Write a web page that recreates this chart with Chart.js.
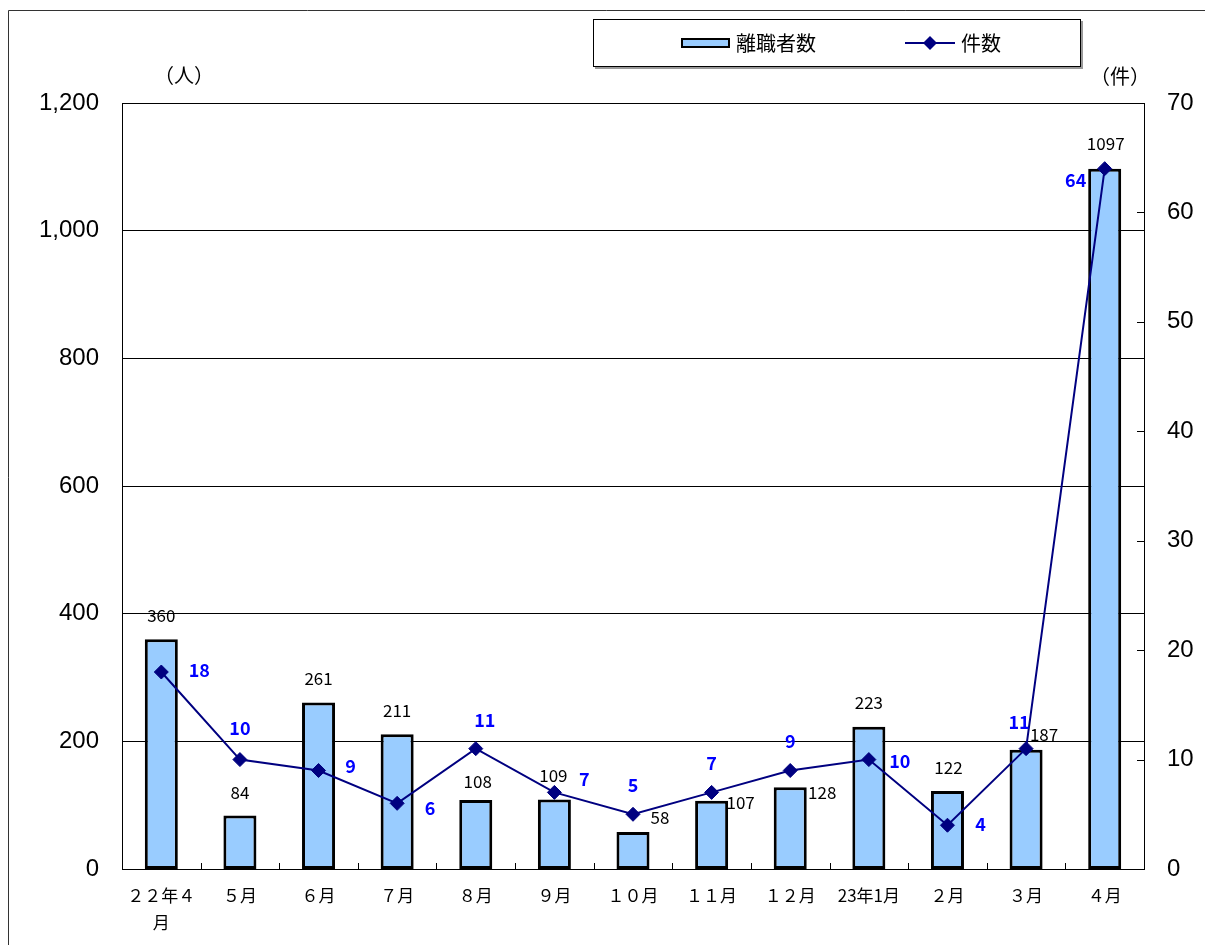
<!DOCTYPE html>
<html><head><meta charset="utf-8">
<script src="https://cdn.jsdelivr.net/npm/chart.js@4"></script>
<style>html,body{margin:0;padding:0;background:#fff}canvas{display:block}</style>
</head><body>
<canvas id="c" width="1205" height="945"></canvas>
<script>
const categories = [["２２年４","月"],"５月","６月","７月","８月","９月","１０月","１１月","１２月","23年1月","２月","３月","４月"];
const leavers = [360, 84, 261, 211, 108, 109, 58, 107, 128, 223, 122, 187, 1097];
const cases = [18, 10, 9, 6, 11, 7, 5, 7, 9, 10, 4, 11, 64];
const leftTicks = [0, 200, 400, 600, 800, 1000, 1200];
const rightTicks = [0, 10, 20, 30, 40, 50, 60, 70];
const leaversLabel = "離職者数";
const casesLabel = "件数";
const leftUnit = "（人）";
const rightUnit = "（件）";

// label offsets (style)
const barLabelOffsets = [[0,-24],[0,-23],[0,-24],[0,-24],[2,-19],[-1,-24],[27,-14],[29,2],[32,5],[0,-24],[1,-24],[18,-15],[1,-25]];
const lineLabelOffsets = [[38,-2],[0,-31],[32,-4],[33,5],[9,-28],[30,-13],[0,-29],[0,-29],[0,-29],[31,2],[33,-1],[-7,-26],[-29,11]];

const CJK = '"Noto Sans CJK JP", "Noto Sans", sans-serif';
const LAT = '"Liberation Sans", Arial, sans-serif';

const decoPlugin = {
  id: 'deco',
  beforeDraw(chart) {
    const ctx = chart.ctx;
    ctx.save();
    ctx.fillStyle = '#fff';
    ctx.fillRect(0, 0, chart.width, chart.height);
    ctx.strokeStyle = '#333';
    ctx.lineWidth = 1;
    ctx.beginPath();
    ctx.moveTo(8.5, 945); ctx.lineTo(8.5, 10.5); ctx.lineTo(1205, 10.5);
    ctx.stroke();
    ctx.restore();
  },
  beforeDatasetsDraw(chart) {
    const ctx = chart.ctx, a = chart.chartArea;
    const xs = chart.scales.x, y2 = chart.scales.y2;
    ctx.save();
    ctx.strokeStyle = '#000';
    ctx.lineWidth = 1;
    ctx.strokeRect(Math.round(a.left) + 0.5, Math.round(a.top) + 0.5, Math.round(a.right - a.left), Math.round(a.bottom - a.top));
    ctx.beginPath();
    for (let i = 1; i < categories.length; i++) {
      const px = Math.round(xs.getPixelForValue(i - 0.5)) + 0.5;
      ctx.moveTo(px, a.bottom); ctx.lineTo(px, a.bottom - 6);
    }
    rightTicks.forEach(v => {
      const py = Math.round(y2.getPixelForValue(v)) + 0.5;
      ctx.moveTo(a.right, py); ctx.lineTo(a.right - 7, py);
    });
    ctx.stroke();
    ctx.restore();
  },
  afterDatasetsDraw(chart) {
    const ctx = chart.ctx;
    ctx.save();
    ctx.textAlign = 'center';
    ctx.textBaseline = 'middle';
    const barMeta = chart.getDatasetMeta(1);
    ctx.font = '17px ' + CJK;
    ctx.fillStyle = '#000';
    barMeta.data.forEach((el, i) => {
      const o = barLabelOffsets[i];
      ctx.fillText(String(leavers[i]), el.x + o[0], el.y + o[1]);
    });
    const lineMeta = chart.getDatasetMeta(0);
    ctx.font = 'bold 18px ' + CJK;
    ctx.fillStyle = '#0000FF';
    lineMeta.data.forEach((el, i) => {
      const o = lineLabelOffsets[i];
      ctx.fillText(String(cases[i]), el.x + o[0], el.y + o[1]);
    });
    // units
    ctx.fillStyle = '#000';
    ctx.font = '20px ' + CJK;
    ctx.fillText(leftUnit, 184, 75);
    ctx.fillText(rightUnit, 1120, 76);
    // legend
    ctx.fillStyle = '#999';
    ctx.fillRect(595, 21, 488, 48);
    ctx.fillStyle = '#fff';
    ctx.fillRect(593, 19, 488, 48);
    ctx.strokeStyle = '#000';
    ctx.lineWidth = 1;
    ctx.strokeRect(593.5, 19.5, 487, 47);
    ctx.fillStyle = '#99CCFF';
    ctx.fillRect(682, 39, 47, 8);
    ctx.lineWidth = 2;
    ctx.strokeRect(682, 39, 47, 8);
    ctx.textAlign = 'left';
    ctx.fillStyle = '#000';
    ctx.font = '20px ' + CJK;
    ctx.fillText(chart.data.datasets[1].label, 736, 43);
    ctx.strokeStyle = '#000080';
    ctx.lineWidth = 2;
    ctx.beginPath(); ctx.moveTo(905, 43); ctx.lineTo(955, 43); ctx.stroke();
    ctx.fillStyle = '#000080';
    ctx.beginPath(); ctx.moveTo(923, 43); ctx.lineTo(930, 36); ctx.lineTo(937, 43); ctx.lineTo(930, 50); ctx.closePath(); ctx.fill();
    ctx.fillStyle = '#000';
    ctx.fillText(chart.data.datasets[0].label, 961, 43);
    ctx.restore();
  }
};

new Chart(document.getElementById('c'), {
  data: {
    labels: categories,
    datasets: [
      {
        type: 'line', label: casesLabel, data: cases, yAxisID: 'y2', order: 0,
        borderColor: '#000080', borderWidth: 2, backgroundColor: '#000080',
        pointStyle: 'rectRot', pointRadius: 7, pointBorderWidth: 1, pointBorderColor: '#000080',
        pointBackgroundColor: '#000080', tension: 0, fill: false
      },
      {
        type: 'bar', label: leaversLabel, data: leavers, yAxisID: 'y', order: 1,
        backgroundColor: '#99CCFF', borderColor: '#000', borderWidth: 3, borderSkipped: false,
        barPercentage: 0.42, categoryPercentage: 1
      }
    ]
  },
  options: {
    responsive: false, animation: false,
    layout: { padding: { top: 103, left: 0, right: 0, bottom: 0 } },
    plugins: { legend: { display: false }, tooltip: { enabled: false } },
    scales: {
      x: {
        offset: true,
        grid: { display: false }, border: { display: false },
        ticks: { color: '#000', font: { family: CJK, size: 17, lineHeight: 1.6 }, padding: 5, maxRotation: 0, autoSkip: false },
        afterFit: s => { s.height = 76; }
      },
      y: {
        position: 'left', min: 0, max: 1200,
        afterBuildTicks: s => { s.ticks = leftTicks.map(v => ({ value: v })); },
        ticks: { color: '#000', font: { family: LAT, size: 24 }, padding: 23,
          callback: v => v.toLocaleString('en-US') },
        grid: { color: '#000', drawTicks: false, lineWidth: c => (c.tick && (c.tick.value === 0 || c.tick.value === 1200)) ? 0 : 1 },
        border: { display: false },
        afterFit: s => { s.width = 122; }
      },
      y2: {
        position: 'right', min: 0, max: 70,
        afterBuildTicks: s => { s.ticks = rightTicks.map(v => ({ value: v })); },
        ticks: { color: '#000', font: { family: LAT, size: 24 }, padding: 23 },
        grid: { drawOnChartArea: false, drawTicks: false },
        border: { display: false },
        afterFit: s => { s.width = 61; }
      }
    }
  },
  plugins: [decoPlugin]
});
</script>
</body></html>
